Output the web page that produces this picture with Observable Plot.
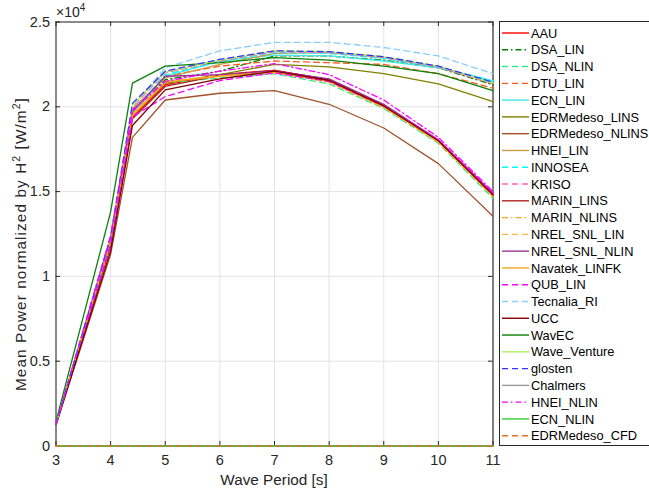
<!DOCTYPE html>
<html><head><meta charset="utf-8">
<script src="https://cdn.jsdelivr.net/npm/d3@7"></script>
<script src="https://cdn.jsdelivr.net/npm/@observablehq/plot@0.6"></script>
<style>
body{margin:0;background:#fff;}
#chart{position:relative;width:649px;height:492px;}
</style></head><body><div id="chart"></div>
<script>
// Wave periods [s]
const periods = [3, 4, 4.4, 5, 6, 7, 8, 9, 10, 11];
const xTicks = [3, 4, 5, 6, 7, 8, 9, 10, 11];
const yTicks = [0, 5000, 10000, 15000, 20000, 25000];

// Mean power normalized by H^2 [W/m^2]
const AAU             = [1300, 11900, 19400, 21300, 21900, 22150, 21600, 20100, 18000, 14850];
const DSA_LIN         = [1300, 12200, 19800, 21600, 22100, 23000, 23000, 22750, 22300, 21300];
const DSA_NLIN        = [1300, 11900, 19500, 21400, 21700, 21950, 21350, 19900, 17850, 14600];
const DTU_LIN         = [1300, 12200, 19800, 21800, 22400, 22700, 22600, 22500, 21950, 21100];
const ECN_LIN         = [1200, 11900, 19600, 21800, 22700, 23050, 23000, 22700, 22300, 21550];
const EDRMedeso_LINS  = [1300, 12000, 19500, 21400, 21900, 22500, 22350, 21950, 21350, 20300];
const EDRMedeso_NLINS = [1250, 11300, 18200, 20400, 20800, 20950, 20150, 18750, 16650, 13550];
const HNEI_LIN        = [1300, 12200, 19900, 21700, 22500, 23150, 23200, 22900, 22350, 21400];
const INNOSEA         = [1250, 12000, 19700, 21900, 22650, 23200, 23150, 22850, 22350, 21500];
const KRISO           = [1300, 12300, 20000, 22000, 22700, 23250, 23200, 22900, 22350, 21350];
const MARIN_LINS      = [1300, 11800, 19300, 21200, 21850, 22150, 21600, 20050, 18000, 14850];
const MARIN_NLINS     = [1300, 12000, 19500, 21500, 21800, 22000, 21450, 19950, 17900, 14700];
const NREL_SNL_LIN    = [1300, 12000, 19600, 21500, 21850, 22050, 21500, 20000, 17950, 14750];
const NREL_SNL_NLIN   = [1300, 12100, 19700, 21800, 21900, 22100, 21650, 20150, 18050, 14900];
const Navatek_LINFK   = [1300, 12000, 19500, 21450, 21800, 22050, 21500, 20000, 17950, 14750];
const QUB_LIN         = [1250, 11900, 19400, 20600, 21550, 22000, 21500, 20050, 18050, 14900];
const Tecnalia_RI     = [1300, 12300, 20000, 22300, 23300, 23800, 23800, 23500, 23000, 21950];
const UCC             = [1250, 11500, 18900, 21000, 21650, 22100, 21550, 20050, 18000, 14800];
const WavEC           = [1450, 13800, 21400, 22400, 22600, 22900, 22750, 22400, 21950, 20950];
const Wave_Venture    = [1300, 12400, 20100, 22050, 22750, 23300, 23250, 22950, 22400, 21400];
const glosten         = [1300, 12300, 20200, 22100, 22800, 23300, 23250, 22950, 22400, 21450];
const Chalmers        = [0, 0, 0, 0, 0, 0, 0, 0, 0, 0];
const HNEI_NLIN       = [1300, 12400, 19800, 21500, 22100, 22550, 21900, 20400, 18200, 15000];
const ECN_NLIN        = [0, 0, 0, 0, 0, 0, 0, 0, 0, 0];
const EDRMedeso_CFD   = [0, 0, 0, 0, 0, 0, 0, 0, 0, 0];

const seriesNames = ["AAU","DSA_LIN","DSA_NLIN","DTU_LIN","ECN_LIN","EDRMedeso_LINS","EDRMedeso_NLINS",
  "HNEI_LIN","INNOSEA","KRISO","MARIN_LINS","MARIN_NLINS","NREL_SNL_LIN","NREL_SNL_NLIN","Navatek_LINFK",
  "QUB_LIN","Tecnalia_RI","UCC","WavEC","Wave_Venture","glosten","Chalmers","HNEI_NLIN","ECN_NLIN","EDRMedeso_CFD"];
const seriesValues = [AAU, DSA_LIN, DSA_NLIN, DTU_LIN, ECN_LIN, EDRMedeso_LINS, EDRMedeso_NLINS,
  HNEI_LIN, INNOSEA, KRISO, MARIN_LINS, MARIN_NLINS, NREL_SNL_LIN, NREL_SNL_NLIN, Navatek_LINFK,
  QUB_LIN, Tecnalia_RI, UCC, WavEC, Wave_Venture, glosten, Chalmers, HNEI_NLIN, ECN_NLIN, EDRMedeso_CFD];
const seriesColors = ["#ff0000","#008000","#2ef08a","#ff5a1e","#48e6e6","#808000","#a0522d",
  "#cd9b45","#00ffff","#ff69b4","#b22222","#ffa520","#ffb340","#993399","#ffa520",
  "#ff00ff","#87cefa","#800000","#0a800a","#adf05a","#3333ff","#999999","#ff00ff","#32cd32","#e0702a"];
const seriesStyles = ["solid","dashdot","dash","dash","solid","solid","solid",
  "solid","dash","dash","solid","dashdot","dash","solid","solid",
  "dash","dash","solid","solid","solid","dash","solid","dashdot","solid","dash"];

const dashMap = {solid: null, dash: "6,4", dashdot: "6,3,1.5,3"};

const W = 649, H = 492;
const mL = 55.5, mR = 156.5, mT = 21.5, mB = 46.5;
const plotH = H - mT - mB, plotW = W - mL - mR;
const tickLen = 4.5;
const axisColor = "#262626";

const lineMarks = seriesNames.map((name, i) => {
  const rows = periods.map((p, j) => ({period: p, value: seriesValues[i][j]}));
  return Plot.line(rows, {x: "period", y: "value", stroke: seriesColors[i], strokeWidth: 1.3,
    strokeDasharray: dashMap[seriesStyles[i]]});
});

const chart = Plot.plot({
  width: W, height: H,
  marginLeft: mL, marginRight: mR, marginTop: mT, marginBottom: mB,
  style: {fontFamily: "'Liberation Sans', Arial, sans-serif", fontSize: "14.5px", color: axisColor, background: "white"},
  x: {domain: [3, 11]},
  y: {domain: [0, 25000]},
  marks: [
    Plot.gridX(xTicks, {stroke: "#e3e3e3", strokeOpacity: 1, strokeWidth: 1}),
    Plot.gridY(yTicks, {stroke: "#e3e3e3", strokeOpacity: 1, strokeWidth: 1}),
    Plot.frame({stroke: axisColor, strokeWidth: 1}),
    Plot.ruleX([xTicks[xTicks.length - 1]], {stroke: "#808080", strokeWidth: 2}),
    Plot.tickX(xTicks, {x: d => d, insetTop: plotH - tickLen, stroke: axisColor}),
    Plot.tickX(xTicks, {x: d => d, insetBottom: plotH - tickLen, stroke: axisColor}),
    Plot.tickY(yTicks, {y: d => d, insetRight: plotW - tickLen, stroke: axisColor}),
    Plot.tickY(yTicks, {y: d => d, insetLeft: plotW - tickLen, stroke: axisColor}),
    ...lineMarks,
    Plot.axisX(xTicks, {tickSize: 0, tickPadding: 9, label: null, fontSize: 14.5, fill: axisColor}),
    Plot.axisY(yTicks, {tickSize: 0, tickPadding: 6, label: null, fontSize: 14.5, fill: axisColor,
      tickFormat: d => String(d / 10000)})
  ]
});

document.getElementById("chart").appendChild(chart);

const svg = d3.select(chart);
const ff = "'Liberation Sans', Arial, sans-serif";

// axis labels
svg.append("text").attr("x", (mL + W - mR) / 2).attr("y", 485)
  .attr("text-anchor", "middle").attr("font-size", 15.3).attr("font-family", ff).attr("fill", axisColor)
  .text("Wave Period [s]");

const yl = svg.append("text").attr("transform", `translate(26,244) rotate(-90)`)
  .attr("text-anchor", "middle").attr("font-size", 15.3).attr("font-family", ff).attr("fill", axisColor)
  .attr("letter-spacing", "1.1px");
yl.append("tspan").text("Mean Power normalized by H");
yl.append("tspan").attr("dy", -6).attr("font-size", 10.5).text("2");
yl.append("tspan").attr("dy", 6).text(" [W/m");
yl.append("tspan").attr("dy", -6).attr("font-size", 10.5).text("2");
yl.append("tspan").attr("dy", 6).text("]");

// exponent label
const ex = svg.append("text").attr("x", 56).attr("y", 17).attr("text-anchor", "start")
  .attr("font-size", 14).attr("font-family", ff).attr("fill", axisColor);
ex.append("tspan").text("\u00d710");
ex.append("tspan").attr("dy", -6).attr("font-size", 10).text("4");

// legend
const lg = svg.append("g").attr("text-anchor", "start");
lg.append("rect").attr("x", 499.5).attr("y", 21.5).attr("width", 160).attr("height", 424)
  .attr("fill", "white").attr("stroke", axisColor).attr("stroke-width", 1);
const step = 16.78;
seriesNames.forEach((name, i) => {
  const yy = 33 + i * step;
  lg.append("line").attr("x1", 502).attr("x2", 529).attr("y1", yy).attr("y2", yy)
    .attr("stroke", seriesColors[i]).attr("stroke-width", 1.4)
    .attr("stroke-dasharray", dashMap[seriesStyles[i]]);
  lg.append("text").attr("x", 531).attr("y", yy).attr("dy", "0.36em").attr("text-anchor", "start")
    .attr("font-size", 12.8).attr("font-family", ff).attr("fill", "#000").text(name);
});
</script></body></html>
